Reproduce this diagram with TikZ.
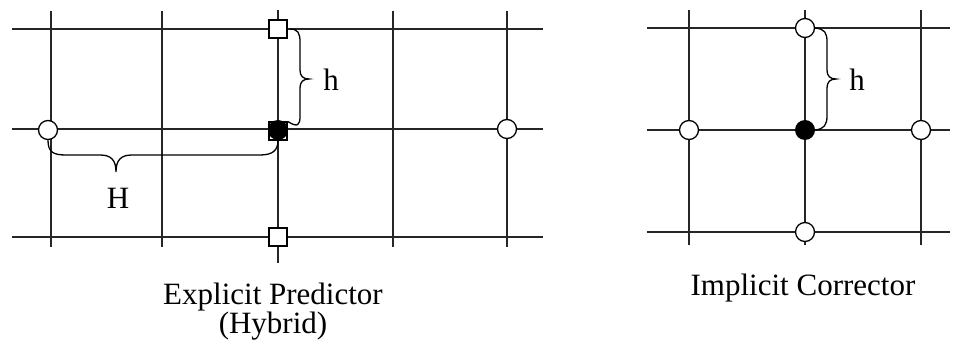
\documentclass[tikz,border=0pt]{standalone}
\usepackage{fontspec}
\setmainfont{Liberation Serif}
\begin{document}
\begin{tikzpicture}[x=1pt,y=-1pt,
  grid/.style={line width=1.3pt, black!85},
  open/.style={circle, draw, fill=white, line width=1.3pt, minimum size=19pt, inner sep=0pt},
  full/.style={circle, fill=black, minimum size=20pt, inner sep=0pt},
  sq/.style={rectangle, draw, fill=white, line width=1.2pt, minimum size=18pt, inner sep=0pt},
  brc/.style={line width=1.3pt},
  lbl/.style={font=\fontsize{31}{31}\selectfont, inner sep=0pt},
]
\useasboundingbox (0,0) rectangle (953,347);
% left grid
\foreach \y in {29,129,237} \draw[grid] (12,\y) -- (543,\y);
\foreach \x in {51,162,393,507} \draw[grid] (\x,11) -- (\x,247);
\draw[grid] (278,10) -- (278,263);
% right grid
\foreach \y in {28,130,232} \draw[grid] (647,\y) -- (950,\y);
\foreach \x in {689,805,921} \draw[grid] (\x,10) -- (\x,245);
% left markers
\node[sq] (st) at (278,29) {};
\node[sq] (sb) at (278,237) {};
\node[sq] (sc) at (278,131) {};
\node[full] (pc) at (278,130) {};
\node[open] (ol) at (48,130) {};
\node[open] (or) at (507,129) {};
% right markers
\node[open] (rt) at (805,28) {};
\node[open] (rb) at (805,232) {};
\node[open] (rl) at (689,130) {};
\node[open] (rr) at (921,130) {};
\node[full] (rc) at (805,130) {};
% H brace
\draw[brc] (ol.south) .. controls (48,152) and (53,155) .. (66,155) -- (100,155)
  .. controls (111,155) and (116,160) .. (116,172)
  .. controls (116,160) and (121,155) .. (132,155) -- (260,155)
  .. controls (273,155) and (278,150) .. (sc.south);
% h brace left
\draw[brc] (st.east) ++(2,0) coordinate (ha) .. controls (298,29) and (300,33) .. (300,42) -- (300,70)
  .. controls (300,76) and (303,79) .. (309,79)
  .. controls (303,79) and (300,82) .. (300,88) -- (300,116)
  .. controls (300,125) and (298,128) .. (sc.north east);
% h brace right
\draw[brc] (rt.east) .. controls (825,29) and (827,33) .. (827,42) -- (827,70)
  .. controls (827,76) and (830,79) .. (836,79)
  .. controls (830,79) and (827,82) .. (827,88) -- (827,116)
  .. controls (827,125) and (824,129) .. (rc.east);
% labels
\node[lbl] (H) at (118,198) {H};
\node[lbl] (h1) at (331,80) {h};
\node[lbl] (h2) at (857,80) {h};
\node[lbl, anchor=base] (t1) at (273,305) {Explicit Predictor};
\node[lbl, anchor=base] (t2) at (273,334) {(Hybrid)};
\node[lbl, anchor=base] (t3) at (803,296) {Implicit Corrector};
\end{tikzpicture}
\end{document}
